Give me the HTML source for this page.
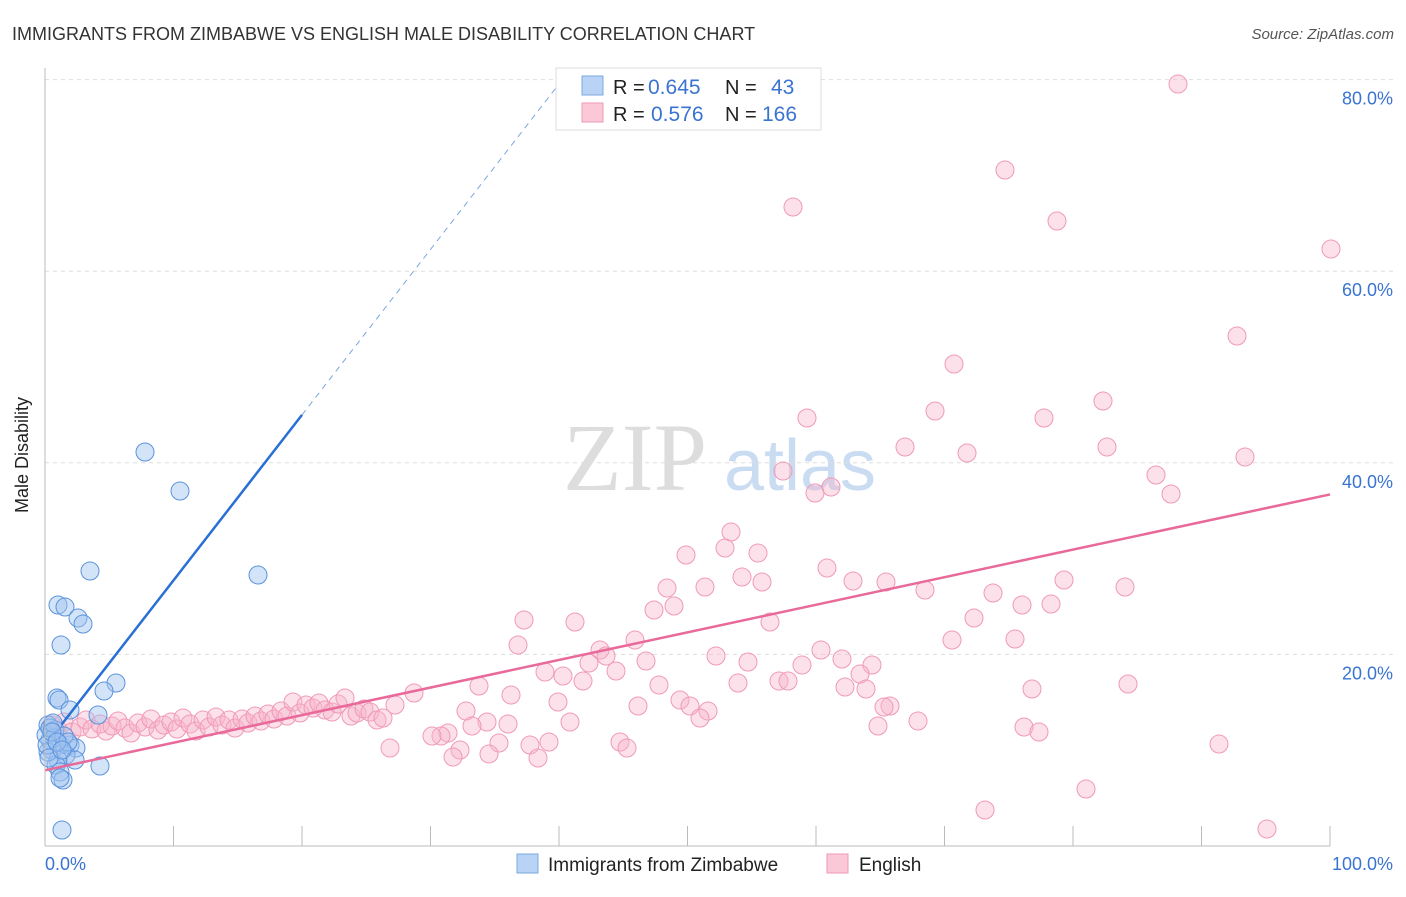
<!DOCTYPE html>
<html><head><meta charset="utf-8"><style>
body{margin:0;background:#fff;font-family:"Liberation Sans",sans-serif}
</style></head><body>
<svg width="1406" height="892" xmlns="http://www.w3.org/2000/svg" id="c">
<text x="12" y="40" font-size="18" fill="#333">IMMIGRANTS FROM ZIMBABWE VS ENGLISH MALE DISABILITY CORRELATION CHART</text>
<text x="1394" y="39" font-size="15" fill="#555" font-style="italic" text-anchor="end">Source: ZipAtlas.com</text>
<text x="635" y="490" font-size="96" fill="#ddd" font-family="Liberation Serif" text-anchor="middle">ZIP</text>
<text x="800" y="490" font-size="72" fill="#c9dcf2" text-anchor="middle">atlas</text>
<g id="grid"></g><g id="pts"></g><g id="lines"></g>
<line x1="45" y1="68" x2="45" y2="846" stroke="#bbb"/>
<line x1="45" y1="846" x2="1330" y2="846" stroke="#bbb"/>
<text x="28" y="455" font-size="18" fill="#222" transform="rotate(-90 28 455)" text-anchor="middle">Male Disability</text>
<text x="45" y="870" font-size="18" fill="#3a74d0">0.0%</text>
<text x="1393" y="870" font-size="18" fill="#3a74d0" text-anchor="end">100.0%</text>
<g>
<rect x="556" y="68" width="265" height="62" fill="#fff" stroke="#ddd"/>
<rect x="582" y="76" width="21" height="19" fill="#b8d3f5" stroke="#7aa8e0"/>
<rect x="582" y="103" width="21" height="19" fill="#fbc8d8" stroke="#ef9ab5"/>
<text x="613" y="94" font-size="20" fill="#222">R =</text>
<text x="648" y="94" font-size="21" fill="#3a74d0">0.645</text>
<text x="725" y="94" font-size="20" fill="#222">N =</text>
<text x="771" y="94" font-size="21" fill="#3a74d0">43</text>
<text x="613" y="121" font-size="20" fill="#222">R =</text>
<text x="651" y="121" font-size="21" fill="#3a74d0">0.576</text>
<text x="725" y="121" font-size="20" fill="#222">N =</text>
<text x="762" y="121" font-size="21" fill="#3a74d0">166</text>
</g>
<g>
<rect x="517" y="854" width="21" height="19" fill="#b8d3f5" stroke="#7aa8e0"/>
<text x="548" y="871" font-size="19" fill="#222">Immigrants from Zimbabwe</text>
<rect x="827" y="854" width="21" height="19" fill="#fbc8d8" stroke="#ef9ab5"/>
<text x="859" y="871" font-size="19" fill="#222">English</text>
</g>
</svg>
<script>
const yTicks=[20,40,60,80];
const xTicks=[0,10,20,30,40,50,60,70,80,90,100];
const blueTrend=[1.3,12.7,20,45];
const pinkTrend=[0,7.9,100,36.7];
const bluePx=[[145,452],[180,491],[258,575],[90,571],[58,605],[65,607],[78,618],[83,624],[61,645],[116,683],[104,691],[57,698],[59,700],[70,710],[98,715],[48,725],[55,730],[50,740],[60,745],[52,750],[70,745],[76,748],[66,755],[58,760],[56,765],[75,760],[100,766],[60,772],[63,780],[60,778],[62,830],[46,735],[50,728],[54,738],[48,752],[64,736],[68,742],[53,723],[47,745],[49,758],[52,732],[57,742],[62,750]];
const pinkPx=[[1178,84],[1005,170],[793,207],[1057,221],[1331,249],[1237,336],[954,364],[1103,401],[935,411],[807,418],[1044,418],[905,447],[967,453],[1107,447],[1245,457],[783,471],[1156,475],[1171,494],[831,487],[815,493],[731,532],[686,555],[725,548],[758,553],[742,577],[762,582],[667,588],[705,587],[827,568],[853,581],[886,582],[925,590],[1064,580],[1125,587],[993,593],[674,606],[654,610],[1022,605],[1051,604],[524,620],[575,622],[974,618],[770,622],[635,640],[518,645],[952,640],[1015,639],[821,650],[600,650],[606,656],[716,656],[646,661],[589,663],[842,659],[872,665],[748,662],[545,672],[563,676],[583,681],[616,671],[860,674],[802,665],[779,681],[788,681],[738,683],[659,685],[845,687],[866,689],[1128,684],[1032,689],[479,686],[511,695],[558,702],[680,700],[690,706],[708,711],[700,718],[638,706],[414,693],[395,705],[890,706],[884,707],[466,711],[487,722],[570,722],[508,724],[472,726],[448,733],[441,736],[432,736],[918,721],[1024,727],[1039,732],[878,726],[390,748],[499,743],[530,745],[549,742],[620,742],[627,748],[460,750],[453,757],[538,758],[489,754],[1219,744],[1086,789],[985,810],[1267,829],
[52,725],[58,730],[64,722],[72,732],[80,727],[86,720],[92,729],[100,724],[106,731],[112,726],[118,721],[125,728],[131,733],[138,723],[145,727],[151,719],[158,730],[164,725],[171,722],[177,729],[183,718],[190,724],[196,731],[203,720],[209,727],[216,717],[222,725],[229,720],[235,728],[242,719],[248,723],[255,716],[261,721],[268,714],[274,719],[281,711],[287,716],[293,702],[300,713],[306,705],[313,708],[319,703],[325,710],[332,712],[338,704],[345,698],[351,716],[357,713],[364,709],[370,712],[377,720],[383,718]];
const X0=45,X1=1330,Y0=846,YS=9.58;
function sx(v){return X0+(X1-X0)*v/100;}
function sy(v){return Y0-v*YS;}
function ix(p){return (p-X0)/(X1-X0)*100;}
function iy(p){return (Y0-p)/YS;}
const blue=bluePx.map(p=>[ix(p[0]),iy(p[1])]);
const pink=pinkPx.map(p=>[ix(p[0]),iy(p[1])]);
const NS="http://www.w3.org/2000/svg";
function mk(t,a,parent){const e=document.createElementNS(NS,t);for(const k in a)e.setAttribute(k,a[k]);parent.appendChild(e);return e;}
const g=document.getElementById('grid'),P=document.getElementById('pts'),L=document.getElementById('lines');
yTicks.forEach(v=>{
 const l=mk('line',{x1:45,x2:1394,y1:sy(v),y2:sy(v),stroke:'#ddd','stroke-dasharray':'4,4'},g);
 
 
 const t=mk('text',{x:1393,y:sy(v)+25,'font-size':18,fill:'#3a74d0','text-anchor':'end'},g);
 t.textContent=v.toFixed(1)+'%';
 
 
});
xTicks.forEach(v=>{
 if(v===0)return;
 const l=mk('line',{x1:sx(v),x2:sx(v),y1:826,y2:846,stroke:'#bbb'},g);
 
 
});
pink.forEach(d=>{
 const c=mk('circle',{cx:sx(d[0]),cy:sy(d[1]),r:9,fill:'rgba(248,180,202,0.4)',stroke:'#f09ab6','stroke-width':1},P);
 
 
});
blue.forEach(d=>{
 const c=mk('circle',{cx:sx(d[0]),cy:sy(d[1]),r:9,fill:'rgba(160,196,240,0.45)',stroke:'#5b93dc','stroke-width':1},P);
 
 
});
const bs=(blueTrend[3]-blueTrend[1])/(blueTrend[2]-blueTrend[0]);
const bl=mk('line',{x1:sx(blueTrend[0]),y1:sy(blueTrend[1]),x2:sx(blueTrend[2]),y2:sy(blueTrend[3]),stroke:'#2a6fd6','stroke-width':2.5},L);


const xe=blueTrend[2]+(81-blueTrend[3])/bs;
const bd=mk('line',{x1:sx(blueTrend[2]),y1:sy(blueTrend[3]),x2:sx(xe),y2:sy(81),stroke:'#7aa8e0','stroke-width':1,'stroke-dasharray':'6,5'},L);


const pl=mk('line',{x1:sx(pinkTrend[0]),y1:sy(pinkTrend[1]),x2:sx(pinkTrend[2]),y2:sy(pinkTrend[3]),stroke:'#e8699a','stroke-width':2.5},L);


</script>
</body></html>
